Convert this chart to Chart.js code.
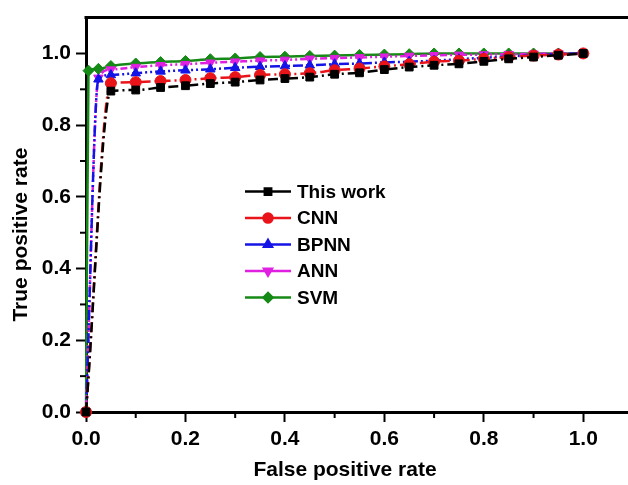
<!DOCTYPE html>
<html>
<head>
<meta charset="utf-8">
<script src="https://cdn.jsdelivr.net/npm/chart.js@4/dist/chart.umd.min.js"></script>
<style>
  html, body { margin: 0; padding: 0; background: #fff; overflow: hidden; }
  #wrap { width: 640px; height: 485px; }
</style>
</head>
<body>
<div id="wrap"><canvas id="roc" width="640" height="485"></canvas></div>
<script>
'use strict';

/* ── Data ──────────────────────────────────────────── */
const seriesNames = ['This work', 'CNN', 'BPNN', 'ANN', 'SVM'];

const fprThis = [0, 0.05, 0.1, 0.15, 0.2, 0.25, 0.3, 0.35, 0.4, 0.45, 0.5, 0.55, 0.6, 0.65, 0.7, 0.75, 0.8, 0.85, 0.9, 0.95, 1.0];
const tprThis = [0, 0.895, 0.898, 0.905, 0.91, 0.916, 0.92, 0.926, 0.93, 0.934, 0.942, 0.946, 0.955, 0.962, 0.967, 0.971, 0.978, 0.985, 0.99, 0.995, 1.0];

const fprCNN = [0, 0.05, 0.1, 0.15, 0.2, 0.25, 0.3, 0.35, 0.4, 0.45, 0.5, 0.55, 0.6, 0.65, 0.7, 0.75, 0.8, 0.85, 0.9, 0.95, 1.0];
const tprCNN = [0, 0.917, 0.92, 0.923, 0.926, 0.931, 0.934, 0.94, 0.942, 0.945, 0.953, 0.958, 0.964, 0.97, 0.977, 0.98, 0.985, 0.99, 0.994, 0.997, 1.0];

const fprBPNN = [0, 0.025, 0.05, 0.1, 0.15, 0.2, 0.25, 0.3, 0.35, 0.4, 0.45, 0.5, 0.55, 0.6, 0.65, 0.7, 0.75, 0.8, 0.85, 0.9, 0.95, 1.0];
const tprBPNN = [0, 0.928, 0.94, 0.945, 0.95, 0.953, 0.956, 0.96, 0.963, 0.965, 0.967, 0.97, 0.972, 0.975, 0.977, 0.98, 0.984, 0.988, 0.992, 0.995, 0.998, 1.0];

const fprANN = [0, 0.025, 0.05, 0.1, 0.15, 0.2, 0.25, 0.3, 0.35, 0.4, 0.45, 0.5, 0.55, 0.6, 0.65, 0.7, 0.75, 0.8, 0.85, 0.9, 0.95, 1.0];
const tprANN = [0, 0.932, 0.955, 0.962, 0.967, 0.97, 0.974, 0.977, 0.98, 0.982, 0.985, 0.987, 0.989, 0.991, 0.993, 0.995, 0.996, 0.997, 0.998, 0.999, 1.0, 1.0];

const fprSVM = [0, 0.005, 0.025, 0.05, 0.1, 0.15, 0.2, 0.25, 0.3, 0.35, 0.4, 0.45, 0.5, 0.55, 0.6, 0.65, 0.7, 0.75, 0.8, 0.85, 0.9, 0.95, 1.0];
const tprSVM = [0, 0.952, 0.957, 0.965, 0.972, 0.976, 0.979, 0.984, 0.986, 0.99, 0.991, 0.993, 0.994, 0.996, 0.997, 0.998, 1.0, 1.0, 1.0, 1.0, 1.0, 1.0, 1.0];

const xTickLabels = ['0.0', '0.2', '0.4', '0.6', '0.8', '1.0'];
const yTickLabels = ['0.0', '0.2', '0.4', '0.6', '0.8', '1.0'];
const xTitle = 'False positive rate';
const yTitle = 'True positive rate';

/* ── Helpers ───────────────────────────────────────── */
const FONT = '"Liberation Sans", Arial, sans-serif';

function pts(xs, ys) {
  return xs.map((x, i) => ({ x: x, y: ys[i] }));
}

function majorLabel(v, labels) {
  const k = Math.round(v * 10);
  if (k % 2 !== 0) return '';
  return labels[k / 2] || '';
}

function tickColour(ctx) {
  const k = Math.round(ctx.tick.value * 10);
  return (k % 2 === 0 && k <= 10) ? '#000' : 'rgba(0,0,0,0)';
}

function mkSet(label, xs, ys, colour, dash, style, rot) {
  return {
    label: label,
    data: pts(xs, ys),
    borderColor: colour,
    backgroundColor: colour,
    borderWidth: 2.5,
    borderDash: dash,
    pointStyle: style,
    rotation: rot || 0,
    pointRadius: 5.5,
    pointBorderWidth: 1,
    cubicInterpolationMode: 'monotone',
    showLine: true
  };
}

/* ── Axes extras: minor ticks, top frame, titles, inset legend ── */
const extras = {
  id: 'extras',
  afterDraw(chart) {
    const ctx = chart.ctx;
    const ca = chart.chartArea;
    const xs = chart.scales.x;
    const ys = chart.scales.y;

    ctx.save();
    ctx.strokeStyle = '#000';
    ctx.lineWidth = 2;
    // minor ticks at odd tenths
    for (let k = 1; k < 11; k += 2) {
      const px = xs.getPixelForValue(k / 10);
      ctx.beginPath();
      ctx.moveTo(px, ca.bottom);
      ctx.lineTo(px, ca.bottom + 6);
      ctx.stroke();
      const py = ys.getPixelForValue(k / 10);
      ctx.beginPath();
      ctx.moveTo(ca.left, py);
      ctx.lineTo(ca.left - 6, py);
      ctx.stroke();
    }
    // top frame line
    ctx.lineWidth = 3;
    ctx.beginPath();
    ctx.moveTo(ca.left - 1.5, ca.top);
    ctx.lineTo(ca.right, ca.top);
    ctx.stroke();

    // axis titles
    ctx.fillStyle = '#000';
    ctx.font = 'bold 21px ' + FONT;
    ctx.textAlign = 'center';
    ctx.textBaseline = 'middle';
    ctx.fillText(xTitle, ca.left + 259, ca.bottom + 58);
    ctx.save();
    ctx.translate(21, ca.top + 217);
    ctx.rotate(-Math.PI / 2);
    ctx.fillText(yTitle, 0, 0);
    ctx.restore();

    // legend
    const lx = ca.left + 159;
    let ly = ca.top + 174;
    ctx.font = 'bold 19px ' + FONT;
    ctx.textAlign = 'left';
    ctx.textBaseline = 'middle';
    chart.data.datasets.forEach(ds => {
      ctx.strokeStyle = ds.borderColor;
      ctx.fillStyle = ds.backgroundColor;
      ctx.lineWidth = 2.5;
      ctx.setLineDash([]);
      ctx.beginPath();
      ctx.moveTo(lx, ly);
      ctx.lineTo(lx + 46, ly);
      ctx.stroke();
      Chart.helpers.drawPoint(ctx, {
        pointStyle: ds.pointStyle,
        rotation: ds.rotation,
        radius: 4.5,
        borderWidth: 1
      }, lx + 23, ly);
      ctx.fillStyle = '#000';
      ctx.fillText(ds.label, lx + 52, ly + 1);
      ly += 26.5;
    });
    ctx.restore();
  }
};

/* ── Chart ─────────────────────────────────────────── */
new Chart(document.getElementById('roc').getContext('2d'), {
  type: 'scatter',
  data: {
    datasets: [
      mkSet(seriesNames[0], fprThis, tprThis, '#000000', [10, 4, 2, 4], 'rect'),
      mkSet(seriesNames[1], fprCNN,  tprCNN,  '#e8141a', [10, 4, 2, 4], 'circle'),
      mkSet(seriesNames[2], fprBPNN, tprBPNN, '#1414e6', [10, 3, 2, 3, 2, 3], 'triangle'),
      mkSet(seriesNames[3], fprANN,  tprANN,  '#e020e0', [7, 3, 2, 3, 2, 3], 'triangle', 180),
      mkSet(seriesNames[4], fprSVM,  tprSVM,  '#168a16', [], 'rectRot')
    ]
  },
  options: {
    responsive: false,
    animation: false,
    clip: false,
    layout: { padding: { left: 0, top: 13, right: 7, bottom: 0 } },
    plugins: {
      legend: { display: false },
      tooltip: { enabled: false }
    },
    scales: {
      x: {
        type: 'linear',
        min: 0,
        max: 1.1,
        afterFit(s) { s.height = 73; },
        border: { display: true, color: '#000', width: 3 },
        grid: {
          drawOnChartArea: false,
          drawTicks: true,
          tickLength: 10,
          tickWidth: 2,
          tickColor: tickColour
        },
        ticks: {
          stepSize: 0.1,
          autoSkip: false,
          maxRotation: 0,
          padding: 5,
          color: '#000',
          font: { family: FONT, size: 21, weight: 'bold' },
          callback: v => majorLabel(v, xTickLabels)
        },
        title: { display: false }
      },
      y: {
        type: 'linear',
        min: 0,
        max: 1.1,
        afterFit(s) { s.width = 86; },
        border: { display: true, color: '#000', width: 3 },
        grid: {
          drawOnChartArea: false,
          drawTicks: true,
          tickLength: 10,
          tickWidth: 2,
          tickColor: tickColour
        },
        ticks: {
          stepSize: 0.1,
          autoSkip: false,
          padding: 5,
          color: '#000',
          font: { family: FONT, size: 21, weight: 'bold' },
          callback: v => majorLabel(v, yTickLabels)
        },
        title: { display: false }
      }
    }
  },
  plugins: [extras]
});
</script>
</body>
</html>
